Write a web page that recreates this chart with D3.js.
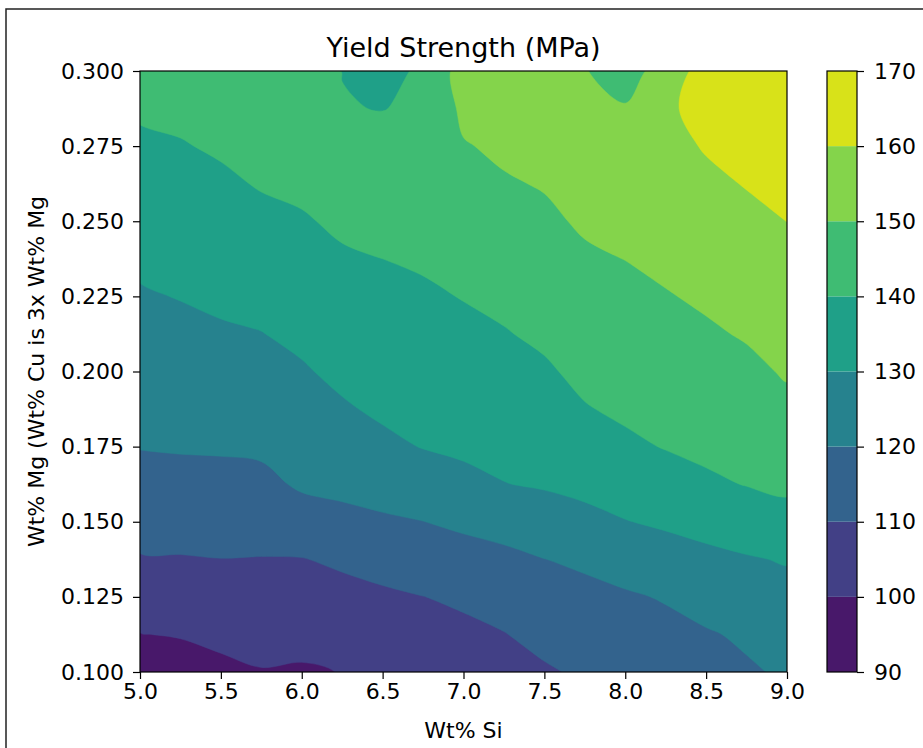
<!DOCTYPE html>
<html><head><meta charset="utf-8">
<script src="https://cdn.jsdelivr.net/npm/d3@7"></script>
<style>
body{margin:0;background:#fff;}
text{font-family:"DejaVu Sans",sans-serif;fill:#000;}
</style>
</head><body>
<svg id="chart" width="923" height="748"></svg>
<script>
// ---- data ----
const siValues = [5.0,5.25,5.5,5.75,6.0,6.25,6.5,6.75,7.0,7.25,7.5,7.75,8.0,8.25,8.5,8.75,9.0];
const mgValues = [0.1,0.1125,0.125,0.1375,0.15,0.1625,0.175,0.1875,0.2,0.2125,0.225,0.2375,0.25,0.2625,0.275,0.2875,0.3];
const levels = [90,100,110,120,130,140,150,160,170];
const xTicks = [5.0,5.5,6.0,6.5,7.0,7.5,8.0,8.5,9.0];
const yTicks = [0.100,0.125,0.150,0.175,0.200,0.225,0.250,0.275,0.300];
const cbTicks = [90,100,110,120,130,140,150,160,170];
// yield strength (MPa): one column per Si value, Mg from 0.100 up to 0.300
const si500 = [95.0,99.8,104.6,109.4,113.2,116.9,120.3,122.5,124.8,127.0,129.2,131.5,133.9,136.3,138.7,141.0,143.4];
const si525 = [96.1,100.5,105.0,109.5,113.4,117.2,120.7,123.1,125.5,127.9,130.3,132.6,134.9,137.2,139.5,141.8,144.0];
const si550 = [98.0,102.0,105.9,109.9,113.6,117.4,120.9,123.6,126.3,129.0,131.5,133.9,136.2,138.6,141.0,143.4,145.8];
const si575 = [99.6,102.9,106.3,109.7,113.7,117.9,121.4,124.2,127.0,129.8,132.5,135.2,137.9,140.6,143.3,145.5,147.5];
const si600 = [99.1,102.6,106.1,109.7,116.1,121.1,123.8,126.5,129.2,131.7,134.2,136.7,139.2,141.7,144.0,145.5,146.5];
const si625 = [100.2,103.7,107.3,111.4,117.6,122.1,125.6,129.1,131.8,134.2,136.6,139.0,141.4,143.0,143.5,140.5,139.8];
const si650 = [102.1,105.4,108.6,113.2,118.8,123.6,128.2,131.3,133.5,135.7,137.8,140.0,142.2,144.0,144.5,139.7,137.0];
const si675 = [103.9,106.9,109.9,114.9,119.9,125.3,130.3,132.4,134.6,136.7,138.8,141.0,143.1,145.2,146.0,142.0,141.5];
const si700 = [105.8,108.2,111.3,116.4,121.7,127.8,131.4,133.7,135.9,138.1,140.3,142.6,144.9,147.2,149.5,151.7,154.0];
const si725 = [107.6,109.7,113.6,117.9,123.3,129.8,132.3,134.7,137.1,139.5,141.9,144.4,146.8,149.3,151.3,153.2,155.0];
const si750 = [109.0,112.5,116.2,119.9,125.7,130.8,133.5,136.2,138.9,141.5,143.9,146.3,148.6,150.5,151.7,152.8,154.0];
const si775 = [111.3,114.5,117.6,121.5,127.6,132.2,135.9,139.5,142.0,144.3,146.6,148.9,151.0,152.0,152.3,151.5,150.3];
const si800 = [113.3,116.1,119.0,123.8,129.7,134.1,138.4,141.4,143.6,145.8,147.9,150.1,151.8,153.0,153.0,150.5,147.0];
const si825 = [115.2,117.7,120.6,126.0,131.3,136.1,140.4,142.7,145.0,147.2,149.5,151.8,154.0,156.0,157.5,158.6,153.0];
const si850 = [117.2,119.3,123.1,127.8,133.0,138.6,141.8,144.2,146.5,148.9,151.2,153.6,155.9,158.3,160.6,162.8,165.0];
const si875 = [119.1,121.1,125.2,129.3,134.8,140.3,142.9,145.5,148.1,150.7,153.1,155.6,158.0,160.4,162.5,164.6,166.5];
const si900 = [121.0,124.1,127.2,130.6,136.9,141.6,144.8,148.0,150.8,153.1,155.4,157.7,160.05,162.0,164.0,166.0,168.0];
const strengthBySi = [si500,si525,si550,si575,si600,si625,si650,si675,si700,si725,si750,si775,si800,si825,si850,si875,si900];

// ---- layout ----
const L = 140, R = 787, T = 71, B = 672;
const cbL = 827, cbR = 857;
const svg = d3.select("#chart");

const xs = d3.scaleLinear().domain([5, 9]).range([L, R]);
const ys = d3.scaleLinear().domain([0.1, 0.3]).range([B, T]);
const cs = d3.scaleLinear().domain([90, 170]).range([B, T]);

const nx = siValues.length, ny = mgValues.length;
const grid = new Array(nx * ny);
for (let j = 0; j < ny; j++) for (let i = 0; i < nx; i++) grid[j * nx + i] = strengthBySi[i][j];

// grid coordinate -> data
const gx = d3.scaleLinear().domain([0.5, nx - 0.5]).range([siValues[0], siValues[nx - 1]]);
const gy = d3.scaleLinear().domain([0.5, ny - 0.5]).range([mgValues[0], mgValues[ny - 1]]);

const bandColor = k => d3.interpolateViridis((k + 0.5) / (levels.length - 1));

const ringLine = d3.line().curve(d3.curveCatmullRomClosed.alpha(0.5));
function smoothPath(mp) {
  let s = "";
  mp.coordinates.forEach(poly => poly.forEach(ring => {
    const pts = ring.slice(0, -1).map(p => [xs(gx(p[0])), ys(gy(p[1]))]);
    if (pts.length > 2) s += ringLine(pts);
  }));
  return s;
}

svg.append("defs").append("clipPath").attr("id", "plotclip")
  .append("rect").attr("x", L).attr("y", T).attr("width", R - L).attr("height", B - T);

const contours = d3.contours().size([nx, ny]).thresholds(levels.slice(0, -1))(grid);
svg.append("g").attr("clip-path", "url(#plotclip)")
  .selectAll("path").data(contours).join("path")
  .attr("d", smoothPath)
  .attr("fill", (d, i) => bandColor(i))
  .attr("stroke", (d, i) => bandColor(i))
  .attr("stroke-width", 0.5);

// plot frame
svg.append("rect").attr("x", L).attr("y", T).attr("width", R - L).attr("height", B - T)
  .attr("fill", "none").attr("stroke", "#000").attr("stroke-width", 1.2);

// axes
const fs = 22;
const xAxis = svg.append("g").attr("transform", `translate(0,${B})`)
  .call(d3.axisBottom(xs).tickValues(xTicks).tickFormat(d3.format(".1f")).tickSize(7).tickPadding(4));
const yAxis = svg.append("g").attr("transform", `translate(${L},0)`)
  .call(d3.axisLeft(ys).tickValues(yTicks).tickFormat(d3.format(".3f")).tickSize(7).tickPadding(9));
const cAxis = svg.append("g").attr("transform", `translate(${cbR},0)`)
  .call(d3.axisRight(cs).tickValues(cbTicks).tickFormat(d3.format("d")).tickSize(7).tickPadding(10));
[xAxis, yAxis, cAxis].forEach(a => {
  a.select(".domain").remove();
  a.selectAll(".tick line").attr("stroke", "#000").attr("stroke-width", 1.2);
  a.selectAll(".tick text").attr("font-size", fs).attr("font-family", "DejaVu Sans").attr("fill", "#000");
});

// colorbar
svg.append("g").selectAll("rect").data(levels.slice(0, -1)).join("rect")
  .attr("x", cbL).attr("width", cbR - cbL)
  .attr("y", (d, i) => cs(levels[i + 1]))
  .attr("height", (d, i) => cs(levels[i]) - cs(levels[i + 1]))
  .attr("fill", (d, i) => bandColor(i));
svg.append("rect").attr("x", cbL).attr("y", T).attr("width", cbR - cbL).attr("height", B - T)
  .attr("fill", "none").attr("stroke", "#000").attr("stroke-width", 1.2);

// texts
svg.append("text").attr("x", (L + R) / 2).attr("y", 57).attr("text-anchor", "middle")
  .attr("font-size", 27).text("Yield Strength (MPa)");
svg.append("text").attr("x", (L + R) / 2).attr("y", 738).attr("text-anchor", "middle")
  .attr("font-size", fs).text("Wt% Si");
svg.append("text").attr("transform", `translate(44,${(T + B) / 2}) rotate(-90)`)
  .attr("text-anchor", "middle").attr("font-size", fs).text("Wt% Mg (Wt% Cu is 3x Wt% Mg");

// figure frame
svg.append("path").attr("d", "M6,748V9H923").attr("fill", "none").attr("stroke", "#222").attr("stroke-width", 1.5);
</script>
</body></html>
